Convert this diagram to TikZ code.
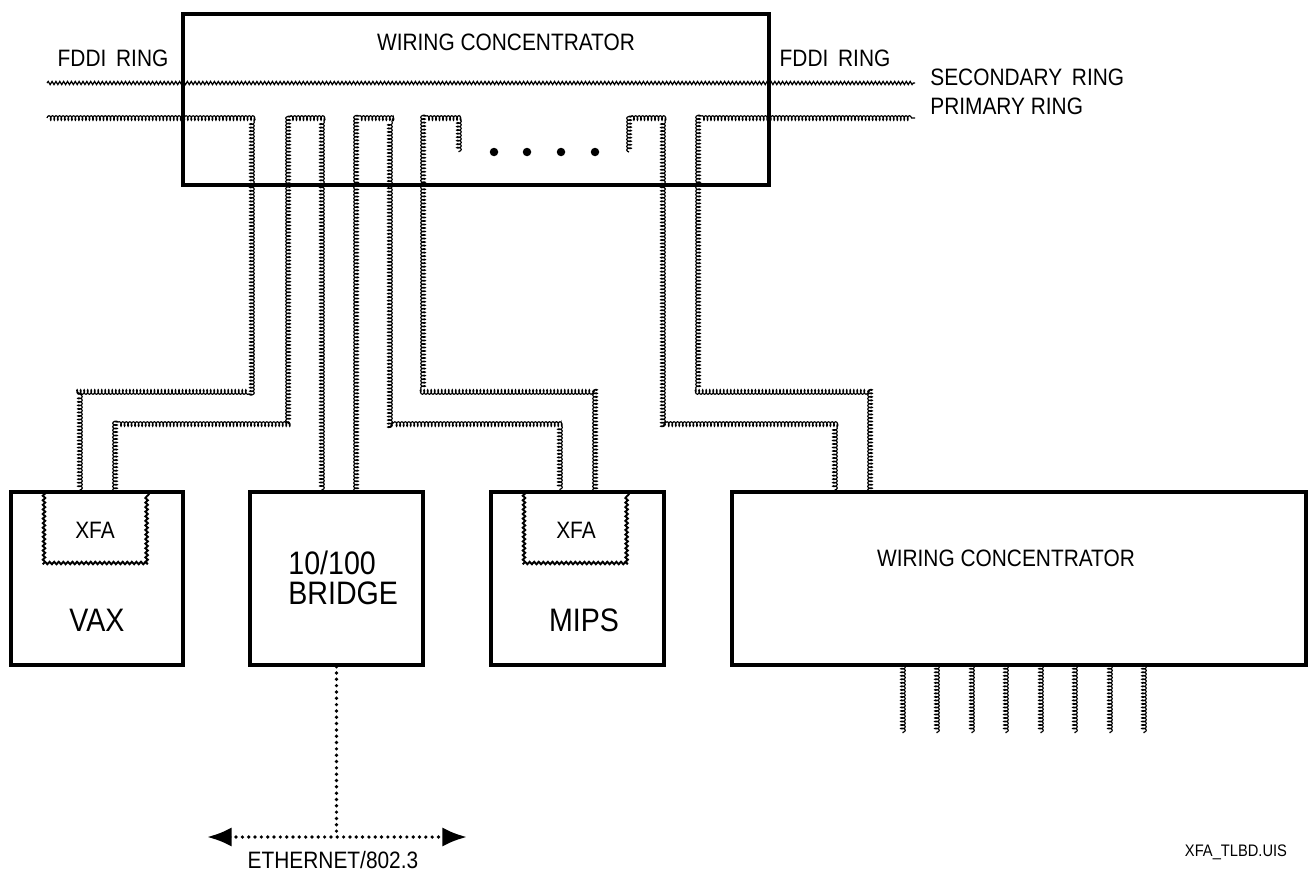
\documentclass[tikz,border=0pt]{standalone}
\usepackage{fontspec}
\setmainfont{Liberation Sans}[FakeStretch=0.88]
\usepackage{tikz}
\usetikzlibrary{arrows.meta,decorations.pathmorphing}
\tikzset{
  fd_box/.style = {draw, line width=1.9pt, rectangle, inner sep=0pt},
  fd_host/.style = {fd_box, minimum width=3.46cm, minimum height=3.46cm},
  fd_txt/.style = {inner sep=0pt, font=\fontsize{13.5}{15}\selectfont},% small caps text
  fd_big/.style = {inner sep=0pt, font=\fontsize{18.5}{16}\selectfont},
  fd_sec/.style = {line width=.7pt, decorate,
    decoration={snake, amplitude=.9pt, segment length=2.2pt}},% secondary ring
  fd_cable/.style = {line width=.65pt, decorate,
    decoration={coil, aspect=.5, amplitude=1.3pt, segment length=2pt}},% primary ring, cables
  fd_xfa/.style = {line width=1.1pt, decorate,
    decoration={snake, amplitude=.7pt, segment length=2.6pt}},
  fd_eth/.style = {line width=2.1pt, line cap=round, dash pattern=on 0pt off 3.6pt},
  fd_dot/.style = {fill, circle, inner sep=0pt, minimum size=.17cm},
}

\begin{document}
\begin{tikzpicture}[x=0.02cm, y=-0.02cm]
  \useasboundingbox (0,0) rectangle (1308,872);

  % boxes
  \node[fd_box, minimum width=11.72cm, minimum height=3.42cm] (conc) at (476,99.5) {};
  \node[fd_host, minimum width=3.44cm] (vax) at (97,578.5) {};
  \node[fd_host] (brg) at (336.5,578.5) {};
  \node[fd_host] (mips) at (577.5,578.5) {};
  \node[fd_box, minimum width=11.48cm, minimum height=3.46cm] (conc2) at (1019,578.5) {};

  % texts
  \node[fd_txt] (conct) at (506,42) {WIRING CONCENTRATOR};
  \node[fd_txt] (fddiw) at (113,58) {FDDI\ \,RING};
  \node[fd_txt] (fddie) at (835,58) {FDDI\ \,RING};
  \node[fd_txt, anchor=west] (sect) at (930,77) {SECONDARY\ \,RING};
  \node[fd_txt, anchor=west] (prit) at (930,106) {PRIMARY RING};
  \node[fd_txt] (xfa1) at (95,530) {XFA};
  \node[fd_txt] (xfa2) at (576,530) {XFA};
  \node[fd_big] (vaxt) at (97,620) {VAX};
  \node[fd_big, anchor=base west, text depth=0pt] (brgt1) at (288,574) {10/100};
  \node[fd_big, anchor=base west] (brgt2) at (288,604) {BRIDGE};
  \node[fd_big] (mipst) at (584,620) {MIPS};
  \node[fd_txt] (conc2t) at (1006,558) {WIRING CONCENTRATOR};
  \node[fd_txt] (etht) at (333,860) {ETHERNET/802.3};
  \node[inner sep=0pt, font=\fontsize{9.5}{11}\selectfont] (fig) at (1236,852) {XFA\_TLBD.UIS};

  % ports
  \coordinate (secW) at (47,83);
  \coordinate (secE) at (915,83);
  \coordinate (priW) at (47,118);
  \coordinate (priE) at (915,118);
  \coordinate (hiY) at (0,392);
  \coordinate (loY) at (0,424);
  \coordinate (cA1) at (252,118);
  \coordinate (cA2) at (288,118);
  \coordinate (cB1) at (322,118);
  \coordinate (cB2) at (356,118);
  \coordinate (cC1) at (390,118);
  \coordinate (cC2) at (423,118);
  \coordinate (stubL) at (459,152);
  \coordinate (stubR) at (629,152);
  \coordinate (cD1) at (663,118);
  \coordinate (cD2) at (698,118);
  \coordinate (vaxA) at (80,492);
  \coordinate (vaxB) at (115,492);
  \coordinate (brgA) at (322,492);
  \coordinate (brgB) at (356,492);
  \coordinate (mipsA) at (560,492);
  \coordinate (mipsB) at (595,492);
  \coordinate (rcA) at (835,492);
  \coordinate (rcB) at (870,492);

  % secondary ring
  \draw[fd_sec] (secW) -- (secE);

  % primary ring through the stations
  \draw[fd_cable] (priW) -- (cA1) -- (cA1 |- hiY) -| (vaxA);
  \draw[fd_cable] (vaxB) -- (vaxB |- loY) -| (cA2) -- (cB1) -- (brgA);
  \draw[fd_cable] (brgB) -- (cB2) -- (cC1) -- (cC1 |- loY) -| (mipsA);
  \draw[fd_cable] (mipsB) -- (mipsB |- hiY) -| (cC2) -| (stubL);
  \draw[fd_cable] (stubR) |- (cD1) -- (cD1 |- loY) -| (rcA);
  \draw[fd_cable] (rcB) -- (rcB |- hiY) -| (cD2) -- (priE);

  % more ports
  \foreach \i/\x in {1/494,2/527,3/561,4/595}
    \node[fd_dot] (dot\i) at (\x,152) {};

  % XFA cards
  \draw[fd_xfa] (44,492) -- (44,563) -- (149,563) -- (149,492);
  \draw[fd_xfa] (524,492) -- (524,563) -- (629,563) -- (629,492);

  % lobes of the second concentrator
  \foreach \x in {903,937,972,1006,1041,1075,1110,1144}
    \draw[fd_cable] (\x,665) -- (\x,733);

  % ethernet
  \coordinate (ethL) at (207,837);
  \coordinate (ethR) at (467,837);
  \draw[fd_eth] (brg.south) -- (brg.south |- ethL);
  \draw[fd_eth, {Latex[length=14pt,width=11pt]}-{Latex[length=14pt,width=11pt]}] (ethL) -- (ethR);
\end{tikzpicture}
\end{document}
